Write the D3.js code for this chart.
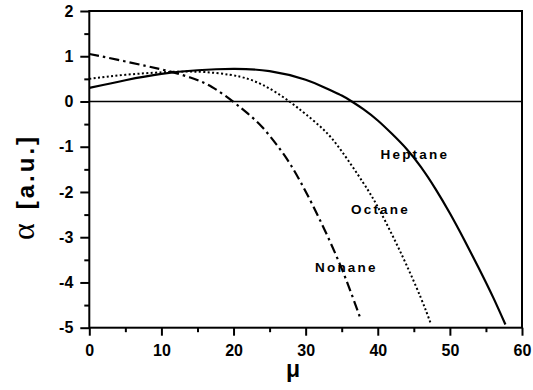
<!DOCTYPE html>
<html><head><meta charset="utf-8">
<script src="https://cdn.jsdelivr.net/npm/d3@7"></script>
<style>
html,body{margin:0;padding:0;background:#fff;}
svg{display:block;}
</style></head>
<body>
<svg id="chart" width="533" height="390"></svg>
<script>
// ---- data ----
const xTicksMajor = [0, 10, 20, 30, 40, 50, 60];
const xTicksMinor = [5, 15, 25, 35, 45, 55];
const yTicksMajor = [2, 1, 0, -1, -2, -3, -4, -5];
const yTicksMinor = [1.5, 0.5, -0.5, -1.5, -2.5, -3.5, -4.5];

const heptaneMu    = [0, 5, 10, 15, 20, 25, 30, 33, 35, 36.4, 38, 40, 42, 44, 46, 48, 50, 52, 54, 56, 57.7];
const heptaneAlpha = [0.30, 0.47, 0.61, 0.69, 0.72, 0.67, 0.48, 0.28, 0.13, 0, -0.17, -0.42, -0.72, -1.05, -1.45, -1.93, -2.47, -3.06, -3.68, -4.33, -4.93];

const octaneMu    = [0, 5, 10, 13, 16, 19.5, 22, 24, 26, 28, 30, 32.6, 35, 38, 40, 42, 44, 46, 47.4];
const octaneAlpha = [0.50, 0.59, 0.645, 0.66, 0.65, 0.59, 0.50, 0.37, 0.19, -0.03, -0.28, -0.64, -1.1, -1.8, -2.33, -2.95, -3.62, -4.35, -4.93];

const nonaneMu    = [0, 4, 8, 11, 14, 17, 19.9, 22, 24, 26, 28, 31, 34.7, 37.6];
const nonaneAlpha = [1.05, 0.92, 0.78, 0.67, 0.53, 0.32, 0, -0.27, -0.57, -0.96, -1.42, -2.3, -3.58, -4.8];

const seriesNames = ["Heptane", "Octane", "Nonane"];

// ---- layout ----
const L = 89.3, R = 522, T = 11, B = 327.7;
const x = d3.scaleLinear().domain([0, 60]).range([L, R]);
const y = d3.scaleLinear().domain([-5, 2]).range([B, T]);
const svg = d3.select("#chart");
const FONT = "Arial, 'Liberation Sans', sans-serif";

// zero line
svg.append("line").attr("x1", x(0)).attr("x2", x(60)).attr("y1", y(0)).attr("y2", y(0))
  .attr("stroke", "#000").attr("stroke-width", 1.3);

// curves
const line = d3.line().x(d => x(d[0])).y(d => y(d[1])).curve(d3.curveNatural);
const series = [
  {name: seriesNames[0], mu: heptaneMu, a: heptaneAlpha, dash: null, w: 2.2},
  {name: seriesNames[1], mu: octaneMu, a: octaneAlpha, dash: "2,2.4", w: 2},
  {name: seriesNames[2], mu: nonaneMu, a: nonaneAlpha, dash: "10,4,2.5,4", w: 2.2}
];
series.forEach(s => {
  svg.append("path").datum(s.mu.map((m, i) => [m, s.a[i]]))
    .attr("d", line).attr("fill", "none").attr("stroke", "#000")
    .attr("stroke-width", s.w).attr("stroke-dasharray", s.dash);
});

// frame
svg.append("rect").attr("x", L).attr("y", T).attr("width", R - L).attr("height", B - T)
  .attr("fill", "none").attr("stroke", "#000").attr("stroke-width", 2);

// axes
function styleAxis(g) {
  g.select(".domain").remove();
  g.selectAll("line").attr("stroke", "#000").attr("stroke-width", 2);
  g.selectAll("text").attr("font-family", FONT).attr("font-weight", "bold")
    .attr("font-size", 16).attr("fill", "#000");
}
svg.append("g").attr("transform", `translate(0,${B})`)
  .call(d3.axisBottom(x).tickValues(xTicksMajor).tickSize(8).tickPadding(9).tickFormat(d3.format("d")))
  .call(styleAxis);
svg.append("g").attr("transform", `translate(0,${B})`)
  .call(d3.axisBottom(x).tickValues(xTicksMinor).tickSize(4.5).tickFormat(""))
  .call(styleAxis);
svg.append("g").attr("transform", `translate(${L},0)`)
  .call(d3.axisLeft(y).tickValues(yTicksMajor).tickSize(9).tickPadding(7).tickFormat(d3.format("d")))
  .call(styleAxis);
svg.append("g").attr("transform", `translate(${L},0)`)
  .call(d3.axisLeft(y).tickValues(yTicksMinor).tickSize(5).tickFormat(""))
  .call(styleAxis);
svg.selectAll("text").each(function(){ const t=d3.select(this); t.text(t.text().replace("\u2212","-")); });

// curve labels
const labelPos = [[380.5, 158.7], [351, 213.8], [315, 272]];
series.forEach((s, i) => {
  svg.append("text").attr("x", labelPos[i][0]).attr("y", labelPos[i][1])
    .attr("font-family", FONT).attr("font-weight", "bold").attr("font-size", 13.5)
    .attr("letter-spacing", 2.2).text(s.name);
});

// axis titles
svg.append("text").attr("x", 293).attr("y", 377).attr("text-anchor", "middle")
  .attr("font-family", FONT).attr("font-weight", "bold").attr("font-size", 23).text("\u03bc");

const yt = svg.append("text").attr("transform", "translate(34,240) rotate(-90)");
yt.append("tspan").attr("font-family", "'Liberation Serif', 'Times New Roman', serif")
  .attr("font-size", 32).text("\u03b1");
yt.append("tspan").attr("dx", 14).attr("font-family", FONT).attr("font-weight", "bold")
  .attr("font-size", 24).attr("letter-spacing", 3).text("[a.u.]");
</script>
</body></html>
